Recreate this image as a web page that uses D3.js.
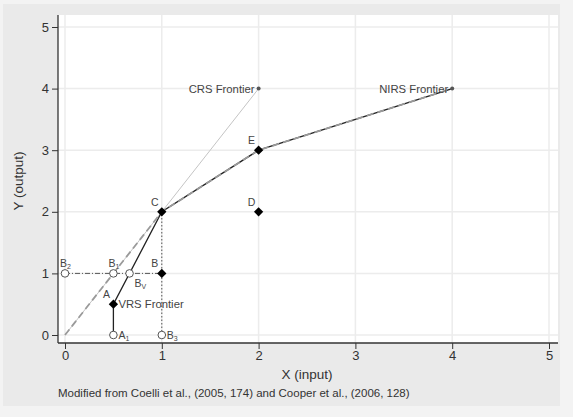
<!DOCTYPE html>
<html><head><meta charset="utf-8">
<script src="https://cdn.jsdelivr.net/npm/d3@7"></script>
<style>body{margin:0;background:#f3f3f3;font-family:"Liberation Sans",Arial,sans-serif;}</style>
</head><body>
<svg id="c" width="573" height="417"></svg>
<script>
// ---- data ----
const xTicks = [0,1,2,3,4,5];
const yTicks = [0,1,2,3,4,5];
const filledPoints = [
  {x:0.5, y:0.5, label:"A"},
  {x:1, y:1, label:"B"},
  {x:1, y:2, label:"C"},
  {x:2, y:2, label:"D"},
  {x:2, y:3, label:"E"}
];
const hollowPoints = [
  {x:0, y:1, label:"B", sub:"2", pos:"above"},
  {x:0.5, y:1, label:"B", sub:"1", pos:"above"},
  {x:2/3, y:1, label:"B", sub:"V", pos:"belowright"},
  {x:0.5, y:0, label:"A", sub:"1", pos:"right"},
  {x:1, y:0, label:"B", sub:"3", pos:"right"}
];
const crsFrontier = [[0,0],[2,4]];
const nirsFrontier = [[0,0],[1,2],[2,3],[4,4]];
const vrsFrontier = [[0.5,0],[0.5,0.5],[1,2],[2,3],[4,4]];
const horizontalRef = [[0,1],[1,1]];
const verticalRef = [[1,0],[1,2]];
const frontierLabels = [
  {x:2, y:4, text:"CRS Frontier"},
  {x:4, y:4, text:"NIRS Frontier"}
];
const vrsLabel = {x:0.5, y:0.5, text:"VRS Frontier"};
const xTitle = "X (input)";
const yTitle = "Y (output)";
const note = "Modified from Coelli et al., (2005, 174) and Cooper et al., (2006, 128)";

// ---- layout ----
const svg = d3.select("#c");
const plotL = 58, plotR = 558, plotT = 15, plotB = 343;
const x = d3.scaleLinear().domain([0,5]).range([65,549]);
const y = d3.scaleLinear().domain([0,5]).range([335,27]);

svg.append("rect").attr("x",3).attr("y",4).attr("width",557).attr("height",402).attr("fill","#eaeaea");
svg.append("rect").attr("x",plotL).attr("y",plotT).attr("width",plotR-plotL).attr("height",plotB-plotT).attr("fill","#ffffff");

// grid
const grid = svg.append("g");
grid.selectAll("line.v").data(xTicks).join("line")
  .attr("x1",d=>x(d)).attr("x2",d=>x(d)).attr("y1",plotT).attr("y2",plotB)
  .attr("stroke","#ececec").attr("stroke-width",1.5);
grid.selectAll("line.h").data(yTicks).join("line")
  .attr("y1",d=>y(d)).attr("y2",d=>y(d)).attr("x1",plotL).attr("x2",plotR)
  .attr("stroke","#ececec").attr("stroke-width",1.5);

// axes
const xAxis = d3.axisBottom(x).tickValues(xTicks).tickSize(6).tickPadding(2).tickFormat(d3.format("d"));
const gx = svg.append("g").attr("transform",`translate(0,${plotB})`).call(xAxis);
gx.select(".domain").remove();
gx.append("line").attr("x1",plotL).attr("x2",plotR).attr("stroke","#333").attr("stroke-width",1.3);
const yAxis = d3.axisLeft(y).tickValues(yTicks).tickSize(6).tickPadding(3).tickFormat(d3.format("d"));
const gy = svg.append("g").attr("transform",`translate(${plotL},0)`).call(yAxis);
gy.select(".domain").remove();
gy.append("line").attr("y1",plotT).attr("y2",plotB).attr("stroke","#333").attr("stroke-width",1.3);
svg.selectAll(".tick line").attr("stroke","#333");
svg.selectAll(".tick text").attr("fill","#333").style("font-size","13px").style("font-family","Liberation Sans, Arial, sans-serif");

// titles
svg.append("text").attr("x",307).attr("y",379).attr("text-anchor","middle")
  .attr("fill","#333").style("font-size","13.5px").text(xTitle);
svg.append("text").attr("transform","translate(23,181) rotate(-90)").attr("text-anchor","middle")
  .attr("fill","#333").style("font-size","13.5px").text(yTitle);
svg.append("text").attr("x",58).attr("y",397).attr("fill","#333").style("font-size","11.5px").text(note);

const line = d3.line().x(d=>x(d[0])).y(d=>y(d[1]));

// lines
svg.append("path").attr("d",line(crsFrontier)).attr("fill","none").attr("stroke","#c4c4c4").attr("stroke-width",1);
svg.append("path").attr("d",line(horizontalRef)).attr("fill","none").attr("stroke","#555").attr("stroke-width",1).attr("stroke-dasharray","5,2,1,2");
svg.append("path").attr("d",line(verticalRef)).attr("fill","none").attr("stroke","#555").attr("stroke-width",1).attr("stroke-dasharray","1.5,2");
svg.append("path").attr("d",line(vrsFrontier)).attr("fill","none").attr("stroke","#222").attr("stroke-width",1.3);
svg.append("path").attr("d",line(nirsFrontier)).attr("fill","none").attr("stroke","#9a9a9a").attr("stroke-width",1.8).attr("stroke-dasharray","7,4");

// frontier end markers + labels
svg.selectAll("circle.fe").data(frontierLabels).join("circle")
  .attr("cx",d=>x(d.x)).attr("cy",d=>y(d.y)).attr("r",2).attr("fill","#555");
svg.selectAll("text.fl").data(frontierLabels).join("text")
  .attr("x",d=>x(d.x)-4).attr("y",d=>y(d.y)+4).attr("text-anchor","end")
  .attr("fill","#444").style("font-size","11.3px").text(d=>d.text);
svg.append("text").attr("x",x(vrsLabel.x)+5).attr("y",y(vrsLabel.y)+4)
  .attr("fill","#444").style("font-size","11.3px").text(vrsLabel.text);

// hollow points
svg.selectAll("circle.h").data(hollowPoints).join("circle")
  .attr("cx",d=>x(d.x)).attr("cy",d=>y(d.y)).attr("r",3.8)
  .attr("fill","#fff").attr("stroke","#555").attr("stroke-width",1);
const hl = svg.selectAll("text.hl").data(hollowPoints).join("text")
  .attr("fill","#444").style("font-size","10.5px")
  .attr("x",d=> d.pos==="above" ? x(d.x)-5 : d.pos==="right" ? x(d.x)+5 : x(d.x)+5)
  .attr("y",d=> d.pos==="above" ? y(d.y)-6 : d.pos==="right" ? y(d.y)+4 : y(d.y)+14);
hl.append("tspan").text(d=>d.label);
hl.append("tspan").attr("dy",2).style("font-size","7px").text(d=>d.sub);

// filled diamonds
const sym = d3.symbol().type(d3.symbolDiamond2).size(55);
svg.selectAll("path.fp").data(filledPoints).join("path")
  .attr("transform",d=>`translate(${x(d.x)},${y(d.y)})`).attr("d",sym).attr("fill","#000");
svg.selectAll("text.fpl").data(filledPoints).join("text")
  .attr("x",d=>x(d.x)-7).attr("y",d=>y(d.y)-6).attr("text-anchor","middle")
  .attr("fill","#444").style("font-size","10.5px").text(d=>d.label);
</script>
</body></html>
